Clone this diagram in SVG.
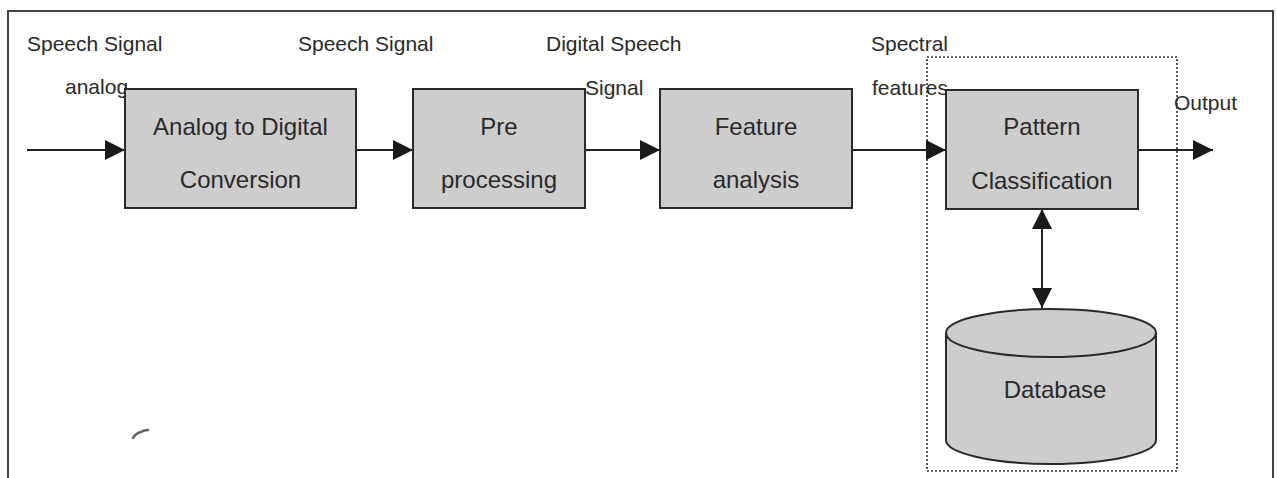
<svg xmlns="http://www.w3.org/2000/svg" width="1277" height="478" viewBox="0 0 1277 478">
<style>
.box{fill:#cdcdcd;stroke:#2a2a2a;stroke-width:2}
.t{font-family:"Liberation Sans",Arial,sans-serif;fill:#2a2a2a}
.lab{font-size:21px}
.bt{font-size:24px;text-anchor:middle}
.ln{stroke:#222;stroke-width:2;fill:none}
</style>
<defs>
<marker id="ah" viewBox="0 0 20 20" refX="20" refY="10" markerWidth="20" markerHeight="20" markerUnits="userSpaceOnUse" orient="auto-start-reverse">
<path d="M0,0 L20,10 L0,20 Z" fill="#1a1a1a"/>
</marker>
</defs>
<rect width="1277" height="478" fill="#ffffff"/>
<path d="M8,478 L8,11 L1273,11 L1273,478" fill="none" stroke="#444" stroke-width="2"/>
<rect x="927" y="57" width="250" height="414" fill="none" stroke="#333" stroke-width="1.6" stroke-dasharray="2 2"/>
<g id="connectors">
<line class="ln" x1="27" y1="150" x2="125" y2="150" marker-end="url(#ah)"/>
<line class="ln" x1="356" y1="150" x2="413" y2="150" marker-end="url(#ah)"/>
<line class="ln" x1="585" y1="150" x2="660" y2="150" marker-end="url(#ah)"/>
<line class="ln" x1="852" y1="150" x2="946" y2="150" marker-end="url(#ah)"/>
<line class="ln" x1="1138" y1="150" x2="1213" y2="150" marker-end="url(#ah)"/>
<line class="ln" x1="1042" y1="209" x2="1042" y2="308" marker-start="url(#ah)" marker-end="url(#ah)"/>
</g>
<g id="labels">
<text class="t lab" x="27" y="51">Speech Signal</text>
<text class="t lab" x="65" y="94">analog</text>
<text class="t lab" x="298" y="51">Speech Signal</text>
<text class="t lab" x="546" y="51">Digital Speech</text>
<text class="t lab" x="585" y="95">Signal</text>
<text class="t lab" x="871" y="51">Spectral</text>
<text class="t lab" x="872" y="95">features</text>
<text class="t lab" x="1174" y="110">Output</text>
</g>
<g id="adc">
<rect class="box" x="125" y="89" width="231" height="119"/>
<text class="t bt" x="240.5" y="135">Analog to Digital</text>
<text class="t bt" x="240.5" y="188">Conversion</text>
</g>
<g id="preprocessing">
<rect class="box" x="413" y="89" width="172" height="119"/>
<text class="t bt" x="499" y="135">Pre</text>
<text class="t bt" x="499" y="188">processing</text>
</g>
<g id="feature">
<rect class="box" x="660" y="89" width="192" height="119"/>
<text class="t bt" x="756" y="135">Feature</text>
<text class="t bt" x="756" y="188">analysis</text>
</g>
<g id="pattern">
<rect class="box" x="946" y="90" width="192" height="119"/>
<text class="t bt" x="1042" y="135">Pattern</text>
<text class="t bt" x="1042" y="189">Classification</text>
</g>
<g id="database">
<path class="box" d="M946,333 L946,440 A105,24 0 0 0 1156,440 L1156,333 A105,24 0 0 0 946,333 Z"/>
<path d="M946,333 A105,24 0 0 0 1156,333" fill="none" stroke="#2a2a2a" stroke-width="2"/>
<text class="t bt" x="1055" y="398">Database</text>
</g>
<path d="M133,438 q3,-5 8,-6 q3,-2 7,-2" fill="none" stroke="#666" stroke-width="2.5" stroke-linecap="round"/>
</svg>
